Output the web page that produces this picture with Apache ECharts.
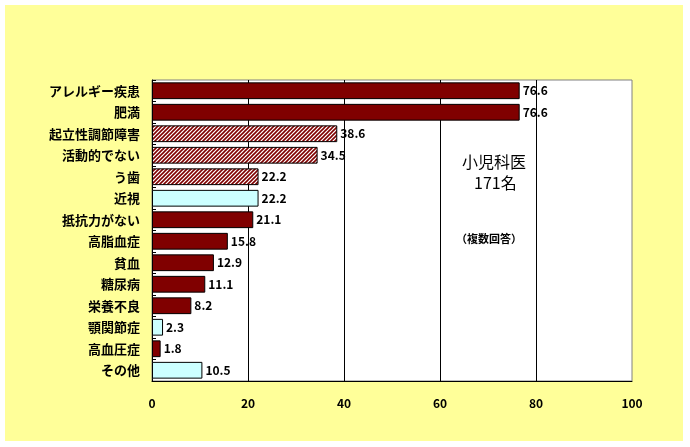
<!DOCTYPE html>
<html>
<head>
<meta charset="utf-8">
<script src="https://cdn.jsdelivr.net/npm/echarts@6/dist/echarts.min.js"></script>
<style>
  html, body { margin: 0; padding: 0; background: #fff; }
  #chart-container { width: 690px; height: 447px; }
</style>
</head>
<body>
<div id="chart-container"></div>
<script>
var categories = ['アレルギー疾患', '肥満', '起立性調節障害', '活動的でない', 'う歯', '近視', '抵抗力がない',
    '高脂血症', '貧血', '糖尿病', '栄養不良', '顎関節症', '高血圧症', 'その他'];
var values = [76.6, 76.6, 38.6, 34.5, 22.2, 22.2, 21.1, 15.8, 12.9, 11.1, 8.2, 2.3, 1.8, 10.5];
// bar fill group: 'solid' dark red, 'hatch' striped, 'light' pale cyan
var groups = ['solid', 'solid', 'hatch', 'hatch', 'hatch', 'light', 'solid',
    'solid', 'solid', 'solid', 'solid', 'light', 'solid', 'light'];
var xTicks = [0, 20, 40, 60, 80, 100];

var font = '"Noto Sans CJK JP", "Liberation Sans", sans-serif';

// diagonal stripe pattern for the hatched bars
var hatch = document.createElement('canvas');
hatch.width = 4;
hatch.height = 4;
var ctx = hatch.getContext('2d');
ctx.fillStyle = '#ffffff';
ctx.fillRect(0, 0, 4, 4);
ctx.strokeStyle = '#800000';
ctx.lineWidth = 1.6;
ctx.beginPath();
ctx.moveTo(0, 4); ctx.lineTo(4, 0);
ctx.moveTo(-1, 1); ctx.lineTo(1, -1);
ctx.moveTo(3, 5); ctx.lineTo(5, 3);
ctx.stroke();

var fills = {
    solid: '#800000',
    hatch: { image: hatch, repeat: 'repeat' },
    light: '#ccffff'
};

var dom = document.getElementById('chart-container');
var myChart = echarts.init(dom, null, { renderer: 'canvas' });

var option = {
    backgroundColor: '#ffffff',
    animation: false,
    graphic: {
        elements: [
            {
                type: 'rect', z: -100, silent: true,
                shape: { x: 5, y: 5, width: 678, height: 436 },
                style: { fill: '#ffff99' }
            },
            {
                type: 'text', left: 462, top: 154, z: 10,
                style: { text: '小児科医', font: '16px ' + font, fill: '#000' }
            },
            {
                type: 'text', left: 474, top: 175, z: 10,
                style: { text: '171名', font: '16px ' + font, fill: '#000' }
            },
            {
                type: 'text', left: 456, top: 233, z: 10,
                style: { text: '（複数回答）', font: 'bold 11px ' + font, fill: '#000' }
            }
        ]
    },
    grid: {
        left: 152,
        right: 58,
        top: 80,
        bottom: 66,
        show: true,
        backgroundColor: '#ffffff',
        borderColor: '#808080',
        borderWidth: 1
    },
    xAxis: {
        type: 'value',
        min: xTicks[0],
        max: xTicks[xTicks.length - 1],
        interval: 20,
        axisLine: { show: true, lineStyle: { color: '#000', width: 1 } },
        axisTick: { show: false },
        axisLabel: {
            margin: 16,
            color: '#000',
            fontWeight: 'bold',
            fontSize: 12,
            fontFamily: font
        },
        splitLine: {
            show: true,
            showMinLine: false,
            showMaxLine: false,
            lineStyle: { color: '#000', width: 1 }
        }
    },
    yAxis: {
        type: 'category',
        inverse: true,
        data: categories,
        axisLine: { show: true, lineStyle: { color: '#000', width: 1 } },
        axisTick: { show: true, inside: true, length: 4, lineStyle: { color: '#000' } },
        axisLabel: {
            margin: 12,
            color: '#000',
            fontWeight: 'bold',
            fontSize: 13,
            fontFamily: font
        }
    },
    series: [
        {
            type: 'bar',
            barCategoryGap: '22%',
            data: values.map(function (v, i) {
                return {
                    value: v,
                    itemStyle: { color: fills[groups[i]] }
                };
            }),
            itemStyle: { borderColor: '#000', borderWidth: 1 },
            label: {
                show: true,
                position: 'right',
                distance: 3,
                color: '#000',
                fontWeight: 'bold',
                fontSize: 12,
                fontFamily: font
            }
        }
    ]
};

myChart.setOption(option);
window.addEventListener('resize', myChart.resize);
</script>
</body>
</html>
